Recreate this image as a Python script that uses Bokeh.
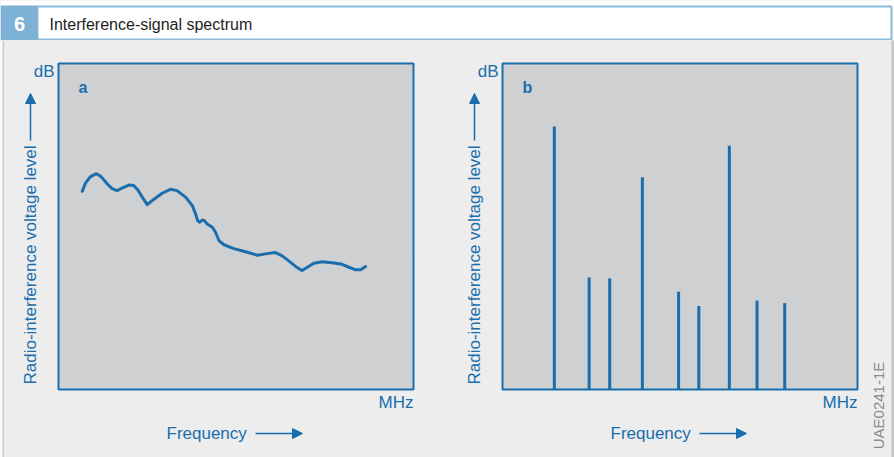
from bokeh.plotting import figure
from bokeh.layouts import column, row
from bokeh.models import Range1d, Label, Arrow, NormalHead, BoxAnnotation
from bokeh.embed import file_html
from bokeh.resources import INLINE
from jinja2 import Template

# ---------------- data (relative units, 0-100 in each panel) ----------------
curve_freq = [6.7, 7.6, 9.0, 10.7, 12.0, 13.7, 15.1, 16.5, 17.9, 19.8, 21.2, 22.3,
              23.6, 25.0, 26.8, 29.2, 31.5, 33.4, 35.8, 37.7, 38.6, 39.2, 39.8,
              40.5, 41.1, 41.9, 43.3, 44.2, 45.2, 46.6, 49.4, 53.2, 56.0, 58.3,
              61.1, 63.0, 65.4, 67.2, 68.6, 70.1, 71.9, 74.3, 77.1, 79.9, 81.8,
              83.7, 85.1, 86.5]
curve_level = [60.8, 63.3, 65.3, 66.2, 65.3, 63.1, 61.6, 61.0, 61.8, 62.7, 62.6, 61.3,
               59.0, 56.7, 58.3, 60.2, 61.4, 61.0, 59.0, 56.4, 53.9, 51.8, 51.3,
               52.0, 51.8, 50.8, 49.8, 48.3, 45.7, 44.4, 43.2, 42.1, 41.2, 41.6,
               42.0, 41.0, 39.0, 37.4, 36.5, 37.5, 38.7, 39.2, 38.9, 38.4, 37.5,
               36.7, 36.7, 37.7]

line_freq = [14.6, 24.4, 30.2, 39.4, 49.6, 55.3, 63.9, 71.7, 79.5]
line_level = [80.7, 34.4, 34.1, 65.1, 30.0, 25.6, 74.8, 27.3, 26.5]

fig_number = "6"
fig_title = "Interference-signal spectrum"
y_label = "Radio-interference voltage level"
x_label = "Frequency"
y_unit = "dB"
x_unit = "MHz"
code_label = "UAE0241-1E"

# ---------------- styles ----------------
FONT = "Liberation Sans"
BLUE = "#1a6eae"
PANEL = "#cfd0d2"
PAGE = "#ecedec"
EDGE = "#c6c7c7"
TAB = "#7db1d6"
TAB_BORDER = "#8abbdc"

W, H = 894, 457
TOP_H = 40
ROW_H = H - TOP_H
FW, FH = 355, 326            # panel box size in px
TOP_PAD, BOT_PAD = 23, 68
SX, SY = FW / 100.0, FH / 100.0


def bare_fig(**kw):
    p = figure(toolbar_location=None, output_backend="svg", title=None,
               x_axis_location=None, y_axis_location=None, min_border=0, **kw)
    p.grid.visible = False
    return p


# ---------------- title bar ----------------
tb = bare_fig(width=W, height=TOP_H, frame_width=W, frame_height=TOP_H,
              x_range=Range1d(0, W), y_range=Range1d(TOP_H, 0),
              background_fill_color="white", border_fill_color="white",
              outline_line_color=None)
tb.quad(left=[37], right=[891], top=[6], bottom=[39], fill_color="white",
        line_color=TAB_BORDER, line_width=2)
tb.quad(left=[0], right=[37], top=[5], bottom=[40], fill_color=TAB,
        line_color=None)
tb.add_layout(Label(x=19, y=23.5, text=fig_number, text_align="center",
                    text_baseline="middle", text_font=FONT, text_font_size="20px",
                    text_font_style="bold", text_color="white"))
tb.add_layout(Label(x=49, y=23.5, text=fig_title, text_align="left",
                    text_baseline="middle", text_font=FONT, text_font_size="16px",
                    text_color="#1e1e1e"))


# ---------------- panels ----------------
def panel(letter, pad_left, pad_right):
    width = pad_left + FW + pad_right
    p = bare_fig(width=width, height=ROW_H, frame_width=width, frame_height=ROW_H,
                 x_range=Range1d(-pad_left / SX, (FW + pad_right) / SX),
                 y_range=Range1d(-BOT_PAD / SY, (FH + TOP_PAD) / SY),
                 background_fill_color=PAGE, border_fill_color=PAGE,
                 outline_line_color=None)
    p.add_layout(BoxAnnotation(left=0, right=100, bottom=0, top=100,
                               fill_color=PANEL, fill_alpha=1.0,
                               line_color=BLUE, line_width=2, line_alpha=1.0,
                               level="underlay"))
    txt = dict(text_font=FONT, text_color=BLUE, text_font_size="17px")
    p.add_layout(Label(x=0, y=100, x_offset=-4, y_offset=-8, text=y_unit,
                       text_align="right", text_baseline="middle", **txt))
    p.add_layout(Label(x=100, y=0, y_offset=-13, text=x_unit,
                       text_align="right", text_baseline="middle", **txt))
    p.add_layout(Label(x=0, y=100, x_offset=20, y_offset=-24, text=letter,
                       text_align="left", text_baseline="middle",
                       text_font=FONT, text_color=BLUE, text_font_size="16px",
                       text_font_style="bold"))
    # y axis title + arrow
    p.add_layout(Label(x=0, y=0, x_offset=-28, y_offset=5, text=y_label,
                       angle=90, angle_units="deg", text_align="left",
                       text_baseline="middle", **txt))
    p.add_layout(Arrow(x_start=-28 / SX, y_start=(FH - 77) / SY,
                       x_end=-28 / SX, y_end=(FH - 30) / SY,
                       line_color=BLUE, line_width=1.5,
                       end=NormalHead(size=10, fill_color=BLUE, line_color=BLUE)))
    # x axis title + arrow
    p.add_layout(Label(x=0, y=0, x_offset=108, y_offset=-44, text=x_label,
                       text_align="left", text_baseline="middle", **txt))
    p.add_layout(Arrow(x_start=197 / SX, y_start=-44 / SY,
                       x_end=244 / SX, y_end=-44 / SY,
                       line_color=BLUE, line_width=1.5,
                       end=NormalHead(size=10, fill_color=BLUE, line_color=BLUE)))
    return p


pa = panel("a", 54, 34)
pa.line(curve_freq, curve_level, line_color=BLUE, line_width=3,
        line_join="round", line_cap="round")

pb = panel("b", 55, 34)
pb.segment(x0=line_freq, y0=[0] * len(line_freq), x1=line_freq, y1=line_level,
           line_color=BLUE, line_width=3)
pb.add_layout(Label(x=100, y=0, x_offset=21, y_offset=-16, text=code_label,
                    angle=90, angle_units="deg", text_align="center",
                    text_baseline="middle", text_font=FONT,
                    text_font_size="15px", text_color="#8c8c8c"))

# ---------------- side edges ----------------
el = bare_fig(width=4, height=ROW_H, frame_width=4, frame_height=ROW_H,
              x_range=Range1d(0, 4), y_range=Range1d(0, 1),
              background_fill_color="white", border_fill_color="white",
              outline_line_color=None)
el.quad(left=[2], right=[4], bottom=[0], top=[1], fill_color=EDGE, line_color=None)
er = bare_fig(width=3, height=ROW_H, frame_width=3, frame_height=ROW_H,
              x_range=Range1d(0, 3), y_range=Range1d(0, 1),
              background_fill_color=EDGE, border_fill_color=EDGE,
              outline_line_color=None)
er.quad(left=[0], right=[3], bottom=[0], top=[1], fill_color=EDGE, line_color=None)

layout = column(tb, row(el, pa, pb, er, spacing=0), spacing=0)

TEMPLATE = Template("""{% extends base %}
{% block preamble %}<style>html,body{margin:0;padding:0;overflow:hidden;background:#ecedec}</style>{% endblock %}
""")

open("out.html", "w").write(file_html(layout, INLINE, title="Interference-signal spectrum",
                                      template=TEMPLATE))
